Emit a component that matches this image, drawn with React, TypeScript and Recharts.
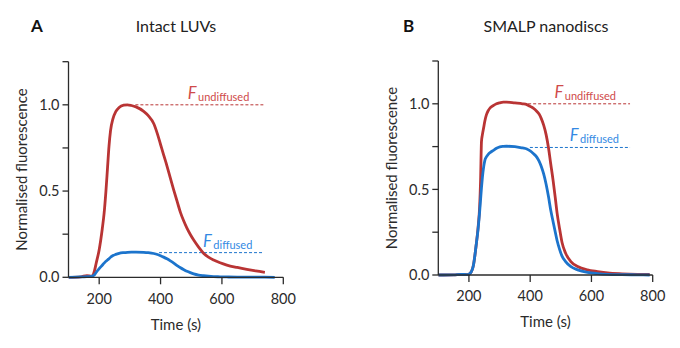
import { Label, Line, LineChart, ReferenceLine, XAxis, YAxis } from "recharts";

const RED = "#b93434";
const BLUE = "#1c74cc";
const RED_TEXT = "#cf4a4a";
const BLUE_TEXT = "#3389e3";
const INK = "#2b2b2b";
const FONT = "Lato, 'Open Sans', sans-serif";

// Panel A – intact LUVs
const timeA = [100, 140, 160, 175, 185, 190, 200, 210, 216, 222, 227, 232, 237, 245, 254, 265, 280, 292, 305, 320, 345, 360, 378, 390, 400, 410, 421, 432, 443, 454, 465, 476, 486, 497, 508, 524, 540, 556, 573, 594, 616, 650, 681, 710, 740, 772];
const undiffusedA = [0, 0.003, 0.01, 0.006, 0.04, 0.08, 0.16, 0.28, 0.37, 0.5, 0.63, 0.76, 0.85, 0.92, 0.96, 0.985, 0.998, 1.0, 0.996, 0.988, 0.962, 0.937, 0.89, 0.83, 0.77, 0.71, 0.645, 0.575, 0.506, 0.44, 0.375, 0.325, 0.285, 0.248, 0.216, 0.175, 0.14, 0.117, 0.1, 0.084, 0.071, 0.057, 0.046, 0.037, 0.029, null];
const diffusedA = [0, 0.002, 0.004, 0.006, 0.015, 0.028, 0.05, 0.07, 0.082, 0.093, 0.1, 0.108, 0.116, 0.126, 0.133, 0.139, 0.143, 0.145, 0.146, 0.146, 0.145, 0.143, 0.138, 0.132, 0.125, 0.117, 0.107, 0.095, 0.082, 0.068, 0.055, 0.044, 0.035, 0.027, 0.02, 0.013, 0.009, 0.006, 0.004, 0.003, 0.002, 0.001, 0.001, 0.001, 0.001, 0];

// Panel B – SMALP nanodiscs
const timeB = [100, 150, 175, 195, 205, 215, 224, 230, 235, 238, 241, 244, 248, 252, 257, 263, 270, 280, 290, 301, 312, 323, 350, 375, 389, 400, 410, 422, 429, 436, 444, 452, 460, 467, 475, 482, 488, 496, 504, 515, 532, 555, 587, 620, 653, 700, 750, 790];
const undiffusedB = [0, 0.001, 0.004, 0.002, 0.012, 0.06, 0.18, 0.28, 0.4, 0.55, 0.78, 0.82, 0.86, 0.9, 0.935, 0.96, 0.978, 0.99, 1.0, 1.006, 1.01, 1.01, 1.005, 1.0, 0.995, 0.985, 0.975, 0.955, 0.94, 0.915, 0.875, 0.82, 0.74, 0.65, 0.55, 0.45, 0.36, 0.27, 0.19, 0.13, 0.08, 0.05, 0.03, 0.02, 0.012, 0.007, 0.004, 0.003];
const diffusedB = [0, 0.001, 0.004, 0.002, 0.012, 0.06, 0.18, 0.27, 0.37, 0.44, 0.51, 0.57, 0.63, 0.67, 0.69, 0.705, 0.716, 0.728, 0.74, 0.748, 0.751, 0.752, 0.75, 0.742, 0.736, 0.725, 0.71, 0.687, 0.665, 0.635, 0.59, 0.53, 0.455, 0.38, 0.31, 0.25, 0.2, 0.15, 0.11, 0.08, 0.05, 0.03, 0.015, 0.008, 0.004, 0.002, 0.001, 0];

const xTicks = [200, 400, 600, 800];
const yTicks = [0, 0.25, 0.5, 0.75, 1, 1.25];
const yLabelled = [0, 0.5, 1];

const toRows = (t: number[], u: (number | null)[], d: (number | null)[]) =>
  t.map((time, i) => ({ t: time, undiffused: u[i], diffused: d[i] }));

function FLabel({ viewBox, sub, color, inset }: any) {
  const end = viewBox.x + viewBox.width - inset;
  return (
    <text x={end} y={viewBox.y - 6} textAnchor="end" fill={color} fontFamily={FONT}>
      <tspan fontStyle="italic" fontSize={16.5}>F</tspan>
      <tspan fontSize={11} dx={1.5} dy={2}>{sub}</tspan>
    </text>
  );
}

function YTitle({ viewBox }: any) {
  const x = viewBox.x + viewBox.width - 46.5;
  const y = viewBox.y + viewBox.height / 2;
  return (
    <text x={x} y={y} transform={`rotate(-90 ${x} ${y})`} textAnchor="middle" dy="0.35em" fill={INK} fontSize={15} fontFamily={FONT}>
      Normalised fluorescence
    </text>
  );
}

function XTitle({ viewBox }: any) {
  return (
    <text x={viewBox.x + viewBox.width / 2} y={viewBox.y + 47} textAnchor="middle" dy="0.35em" fill={INK} fontSize={15} fontFamily={FONT}>
      Time (s)
    </text>
  );
}

type PanelProps = {
  rows: { t: number; undiffused: number | null; diffused: number | null }[];
  margin: { top: number; right: number; bottom: number; left: number };
  yWidth: number;
  undiffusedLevel: number;
  diffusedLevel: number;
  undiffusedFrom: number;
  diffusedFrom: number;
  lineTo: number;
};

function Panel({ rows, margin, yWidth, undiffusedLevel, diffusedLevel, undiffusedFrom, diffusedFrom, lineTo }: PanelProps) {
  const tickStyle = { fill: INK, fontSize: 14.5, fontFamily: FONT };
  return (
    <LineChart width={340} height={348} data={rows} margin={margin}>
      <XAxis
        type="number"
        dataKey="t"
        domain={[100, 800]}
        ticks={xTicks}
        allowDataOverflow
        tick={tickStyle}
        tickSize={7}
        tickMargin={9}
        height={50}
        stroke={INK}
        strokeWidth={1.3}
      >
        <Label content={<XTitle />} />
      </XAxis>
      <YAxis
        type="number"
        domain={[0, 1.25]}
        ticks={yTicks}
        tickFormatter={(v: number) => (yLabelled.includes(v) ? v.toFixed(1) : "")}
        tick={tickStyle}
        tickSize={6}
        tickMargin={3}
        width={yWidth}
        stroke={INK}
        strokeWidth={1.3}
      >
        <Label content={<YTitle />} />
      </YAxis>
      <ReferenceLine
        segment={[{ x: undiffusedFrom, y: undiffusedLevel }, { x: lineTo, y: undiffusedLevel }]}
        stroke={RED}
        strokeDasharray="3 2"
        strokeWidth={1}
        label={<FLabel sub="undiffused" color={RED_TEXT} inset={14} />}
      />
      <ReferenceLine
        segment={[{ x: diffusedFrom, y: diffusedLevel }, { x: lineTo, y: diffusedLevel }]}
        stroke={BLUE}
        strokeDasharray="3 2"
        strokeWidth={1}
        label={<FLabel sub="diffused" color={BLUE_TEXT} inset={11} />}
      />
      <Line type="monotone" dataKey="undiffused" stroke={RED} strokeWidth={2.8} dot={false} isAnimationActive={false} />
      <Line type="monotone" dataKey="diffused" stroke={BLUE} strokeWidth={2.8} dot={false} isAnimationActive={false} />
    </LineChart>
  );
}

export default function App() {
  const letter = { position: "absolute" as const, fontFamily: FONT, fontWeight: 700, fontSize: 17, color: "#111", lineHeight: "20px" };
  const title = { position: "absolute" as const, fontFamily: FONT, fontSize: 16, color: "#222", lineHeight: "20px", textAlign: "center" as const, width: 200 };
  return (
    <div style={{ position: "absolute", left: 0, top: 0, width: 680, height: 348, background: "#fff" }}>
      <div style={{ ...letter, left: 31, top: 16 }}>A</div>
      <div style={{ ...title, left: 76, top: 16 }}>Intact LUVs</div>
      <div style={{ ...letter, left: 403, top: 16 }}>B</div>
      <div style={{ ...title, left: 446, top: 16 }}>SMALP nanodiscs</div>
      <div style={{ position: "absolute", left: 0, top: 0 }}>
        <Panel
          rows={toRows(timeA, undiffusedA, diffusedA)}
          margin={{ top: 61.7, right: 56.7, bottom: 20.7, left: 0 }}
          yWidth={68.5}
          undiffusedLevel={1}
          diffusedLevel={0.143}
          undiffusedFrom={318}
          diffusedFrom={395}
          lineTo={735}
        />
      </div>
      <div style={{ position: "absolute", left: 340, top: 0 }}>
        <Panel
          rows={toRows(timeB, undiffusedB, diffusedB)}
          margin={{ top: 61, right: 27.3, bottom: 23, left: 30 }}
          yWidth={68.3}
          undiffusedLevel={1}
          diffusedLevel={0.745}
          undiffusedFrom={377}
          diffusedFrom={399}
          lineTo={726}
        />
      </div>
    </div>
  );
}
